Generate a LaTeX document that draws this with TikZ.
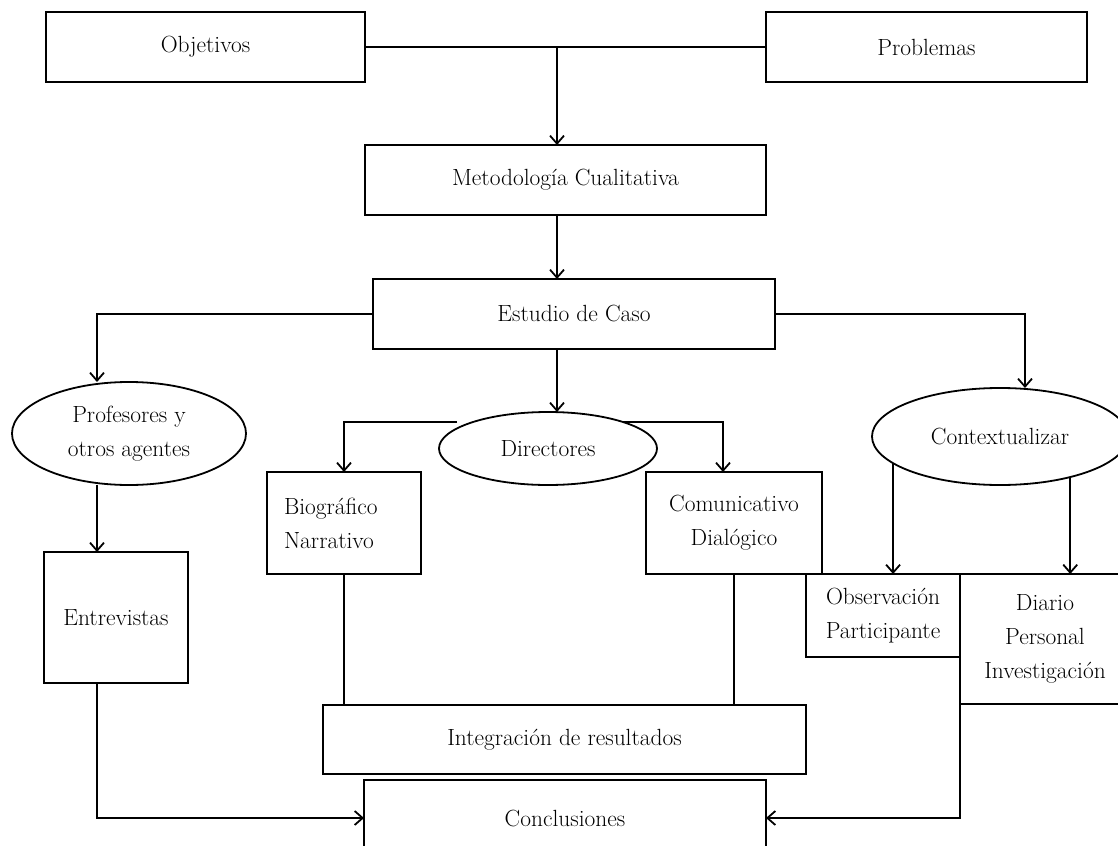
\documentclass[tikz,border=0pt]{standalone}
\usetikzlibrary{shapes.geometric,arrows.meta}
\begin{document}
\begin{tikzpicture}[x=1bp,y=-1bp,line width=1.8bp,
    >={Straight Barb[length=8pt,width=14pt]},
    font=\fontsize{23.5}{34}\selectfont,
    caja/.style={draw,rectangle,inner sep=0pt,outer sep=0pt,align=center},
    elipse/.style={draw,ellipse,inner sep=0pt,outer sep=0pt,align=center}]
    \useasboundingbox (0,0) rectangle (1118,846);
    \fill[white] (0,0) rectangle (1118,846);

    \node[caja,minimum width=319bp,minimum height=70bp] (obj) at (205.5,47) {Objetivos};
    \node[caja,minimum width=321bp,minimum height=70bp] (prob) at (926.5,47) {Problemas};
    \node[caja,minimum width=401bp,minimum height=70bp] (met) at (565.5,180) {Metodología Cualitativa};
    \node[caja,minimum width=402bp,minimum height=70bp] (est) at (574,314) {Estudio de Caso};

    \node[elipse,minimum width=234bp,minimum height=103bp] (prof) at (129,433.5) {Profesores y\\otros agentes};
    \node[elipse,minimum width=218bp,minimum height=73bp] (dir) at (548,448.5) {Directores};
    \node[elipse,minimum width=256bp,minimum height=97bp] (ctx) at (1000,436.5) {Contextualizar};

    \node[caja,minimum width=144bp,minimum height=131bp] (entrev) at (116,617.5) {Entrevistas};
    \node[caja,minimum width=154bp,minimum height=102bp,text width=120bp,align=left] (bio) at (344,523) {Biográfico\\Narrativo};
    \node[caja,minimum width=176bp,minimum height=102bp] (com) at (734,523) {Comunicativo\\Dialógico};
    \node[caja,minimum width=154bp,minimum height=83bp] (obs) at (883,615.5) {Observación\\Participante};
    \node[caja,minimum width=170bp,minimum height=130bp] (diario) at (1045,639) {Diario\\Personal\\Investigación};

    \node[caja,minimum width=483bp,minimum height=69bp] (integ) at (564.5,739.5) {Integración de resultados};
    \node[caja,minimum width=402bp,minimum height=76bp] (concl) at (565,818) {Conclusiones};

    \coordinate (j1) at (557,47);
    \coordinate (c1) at (97,314);
    \coordinate (c2) at (1025,314);
    \coordinate (d1) at (457,422);
    \coordinate (d2) at (723,422);
    \coordinate (d3) at (623,422);

    \draw (obj) -- (prob);
    \draw[->] (j1) -- (j1 |- met.north);
    \draw[->] (j1 |- met.south) -- (j1 |- est.north);
    \draw[->] (est.west) -- (c1) -- (c1 |- prof.north);
    \draw[->] (est.east) -- (c2) -- (c2 |- ctx.north);
    \draw[->] (j1 |- est.south) -- (j1 |- dir.north);
    \draw[->] (d1) -| (bio.north);
    \draw[->] (d3) -- (d2) -- (d2 |- com.north);
    \draw[->] (c1 |- prof.south) -- (c1 |- entrev.north);
    \draw[->] (c1 |- entrev.south) |- (concl.west);
    \draw[->] (ctx.194) -- (ctx.194 |- obs.north);
    \draw[->] (ctx.330) -- (ctx.330 |- diario.north);
    \draw[->] (diario.south west) |- (concl.east);
    \foreach \n in {bio,com} {
      \draw (\n.south) -- (\n.south |- integ.north);
    }
  \end{tikzpicture}
\end{document}
